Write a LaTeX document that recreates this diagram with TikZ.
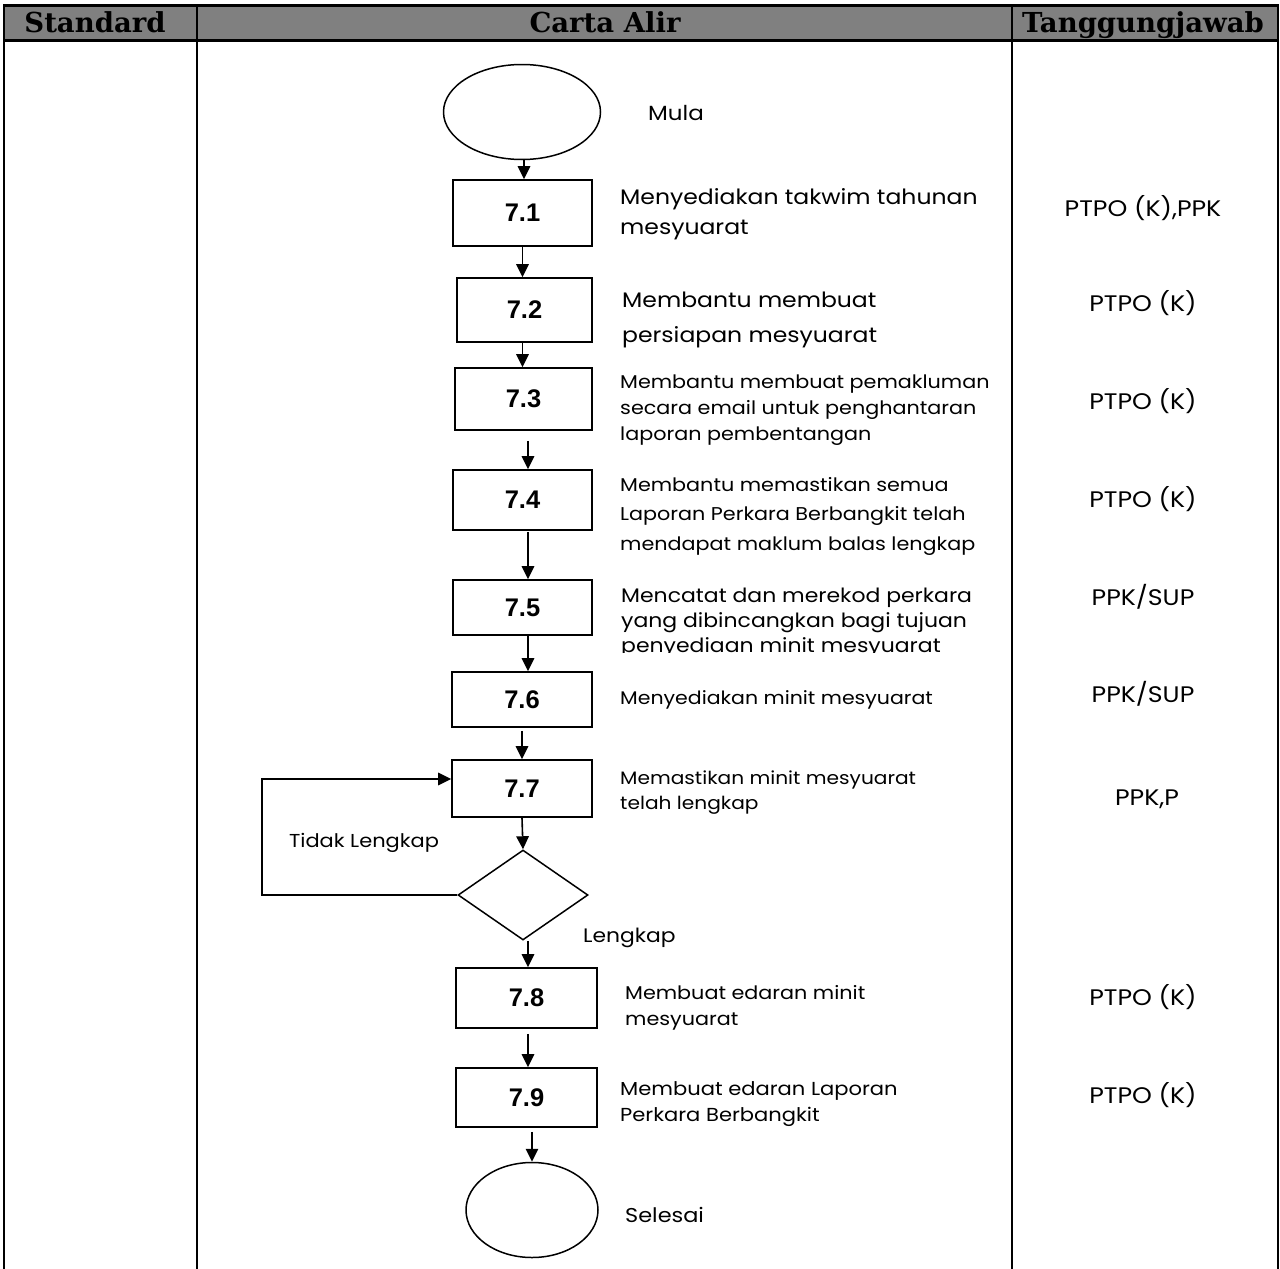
\documentclass[tikz,border=0pt]{standalone}
\usepackage{fontspec}
\setmainfont{Poppins}[FakeStretch=1.12]
\newfontfamily\hdrfont{DejaVu Serif}
\newfontfamily\numfont{Liberation Sans}
\usetikzlibrary{arrows.meta,shapes.geometric,calc}
\definecolor{hdrgray}{RGB}{128,128,128}
\begin{document}
\begin{tikzpicture}[x=1pt,y=-1pt,
  stepbox/.style={draw,line width=1.8pt,inner sep=0pt,font=\numfont\bfseries\fontsize{25.5}{28}\selectfont},
  term/.style={draw,ellipse,line width=1.5pt,inner sep=0pt},
  decis/.style={draw,diamond,line width=1.5pt,inner sep=0pt},
  arr/.style={line width=1.6pt,-{Triangle[length=13pt,width=12.5pt]}},
  hdr/.style={anchor=base,inner sep=0pt,font=\hdrfont\bfseries\fontsize{27.5}{30}\selectfont},
  descL/.style={anchor=west,align=left,inner sep=0pt,font=\fontsize{21}{35}\selectfont},
  descM/.style={anchor=west,align=left,inner sep=0pt,font=\fontsize{18.5}{26}\selectfont},
  descS/.style={anchor=west,align=left,inner sep=0pt,font=\fontsize{18}{25}\selectfont},
  resp/.style={inner sep=0pt,font=\fontsize{22.5}{26}\selectfont},
  lbl/.style={inner sep=0pt,font=\fontsize{18.7}{24}\selectfont}]
\useasboundingbox (0,0) rectangle (1280,1269);
% header
\fill[hdrgray] (4,5) rectangle (1278,40);
\draw[line width=3pt] (3,5) -- (1279,5);
\draw[line width=3pt] (3,40) -- (1279,40);
\foreach \xx in {4,197,1012,1278} \draw[line width=2pt] (\xx,5) -- (\xx,1269);
\node[hdr] (h1) at (95,32) {Standard};
\node[hdr] (h2) at (605,32) {Carta Alir};
\node[hdr] (h3) at (1143,32) {Tanggungjawab};
% flow
\node[term,minimum width=157pt,minimum height=95pt] (start) at (522,112) {};
\node[lbl,anchor=west,font=\fontsize{20.5}{24}\selectfont] (tmula) at (648,113) {Mula};
\node[stepbox,minimum width=139pt,minimum height=66pt] (b1) at (522.5,213) {7.1};
\node[stepbox,minimum width=135pt,minimum height=64pt] (b2) at (524.5,310) {7.2};
\node[stepbox,minimum width=137pt,minimum height=62pt] (b3) at (523.5,399) {7.3};
\node[stepbox,minimum width=139pt,minimum height=60pt] (b4) at (522.5,500) {7.4};
\node[stepbox,minimum width=139pt,minimum height=55pt] (b5) at (522.5,607.5) {7.5};
\node[stepbox,minimum width=140pt,minimum height=55pt] (b6) at (522,699.5) {7.6};
\node[stepbox,minimum width=140pt,minimum height=57pt] (b7) at (522,788.5) {7.7};
\node[decis,minimum width=130pt,minimum height=90pt] (d) at (523,895) {};
\node[stepbox,minimum width=141pt,minimum height=60pt] (b8) at (526.5,998) {7.8};
\node[stepbox,minimum width=141pt,minimum height=59pt] (b9) at (526.5,1097.5) {7.9};
\node[term,minimum width=132pt,minimum height=95pt] (end) at (532,1210) {};
\node[lbl,anchor=west,font=\fontsize{20}{24}\selectfont] (tsel) at (625,1215) {Selesai};
% descriptions
\node[descL,font=\fontsize{21}{30}\selectfont] (t1) at (620,214) {Menyediakan takwim tahunan\\mesyuarat};
\node[descL] (t2) at (622,320) {Membantu membuat\\persiapan mesyuarat};
\node[descM] (t3) at (620,410) {Membantu membuat pemakluman\\secara email untuk penghantaran\\laporan pembentangan};
\node[descM,font=\fontsize{18.5}{29.5}\selectfont] (t4) at (620,516) {Membantu memastikan semua\\Laporan Perkara Berbangkit telah\\mendapat maklum balas lengkap};
\begin{scope}
\clip (600,575) rectangle (1005,652);
\node[descM,font=\fontsize{19.6}{25}\selectfont] (t5) at (621,623) {Mencatat dan merekod perkara\\yang dibincangkan bagi tujuan\\penyediaan minit mesyuarat};
\end{scope}
\node[descS,font=\fontsize{18.3}{25}\selectfont] (t6) at (620,700) {Menyediakan minit mesyuarat};
\node[descS] (t7) at (620,793) {Memastikan minit mesyuarat\\telah lengkap};
\node[descM] (t8) at (625,1008) {Membuat edaran minit\\mesyuarat};
\node[descM,font=\fontsize{18.8}{26}\selectfont] (t9) at (620,1104) {Membuat edaran Laporan\\Perkara Berbangkit};
% responsibilities
\node[resp] (r1) at (1143,208) {PTPO (K),PPK};
\node[resp] (r2) at (1143,303) {PTPO (K)};
\node[resp] (r3) at (1143,401) {PTPO (K)};
\node[resp] (r4) at (1143,499) {PTPO (K)};
\node[resp] (r5) at (1143,597) {PPK/SUP};
\node[resp] (r6) at (1143,694) {PPK/SUP};
\node[resp] (r7) at (1147,799) {PPK,P};
\node[resp] (r8) at (1143,997) {PTPO (K)};
\node[resp] (r9) at (1143,1095) {PTPO (K)};
% connectors
\draw[arr] ($(start.south)+(2,0)$) -- ($(b1.north)+(1.5,0)$);
\draw[arr] ($(b1.south)+(0,0)$) -- ($(b2.north)+(-2,0)$);
\draw[arr] ($(b2.south)+(-2,0)$) -- ($(b3.north)+(-1,0)$);
\draw[arr] ($(b3.south)+(4.5,10)$) -- ($(b4.north)+(5.5,0)$);
\draw[arr] ($(b4.south)+(5.5,1)$) -- ($(b5.north)+(5.5,0)$);
\draw[arr] ($(b5.south)+(5.5,0)$) -- ($(b6.north)+(6,0)$);
\draw[arr] ($(b6.south)+(0,3)$) -- (b7.north);
\draw[arr] (b7.south) -- (d.north);
\coordinate (lp1) at (262,895);
\coordinate (lp2) at (262,779);
\draw[arr] (d.west) -- (lp1) -- (lp2) -- (b7.west |- lp2);
\draw[arr] ($(d.south)+(5,0)$) -- ($(b8.north)+(1.5,0)$);
\draw[arr] ($(b8.south)+(1.5,5)$) -- ($(b9.north)+(1.5,0)$);
\draw[arr] ($(b9.south)+(5.5,4)$) -- ($(end.north)+(0,0)$);
\node[lbl] (tl) at (364,843) {Tidak Lengkap};
\node[lbl,anchor=west,font=\fontsize{19.5}{24}\selectfont] (lk) at (583,938) {Lengkap};
\end{tikzpicture}
\end{document}
